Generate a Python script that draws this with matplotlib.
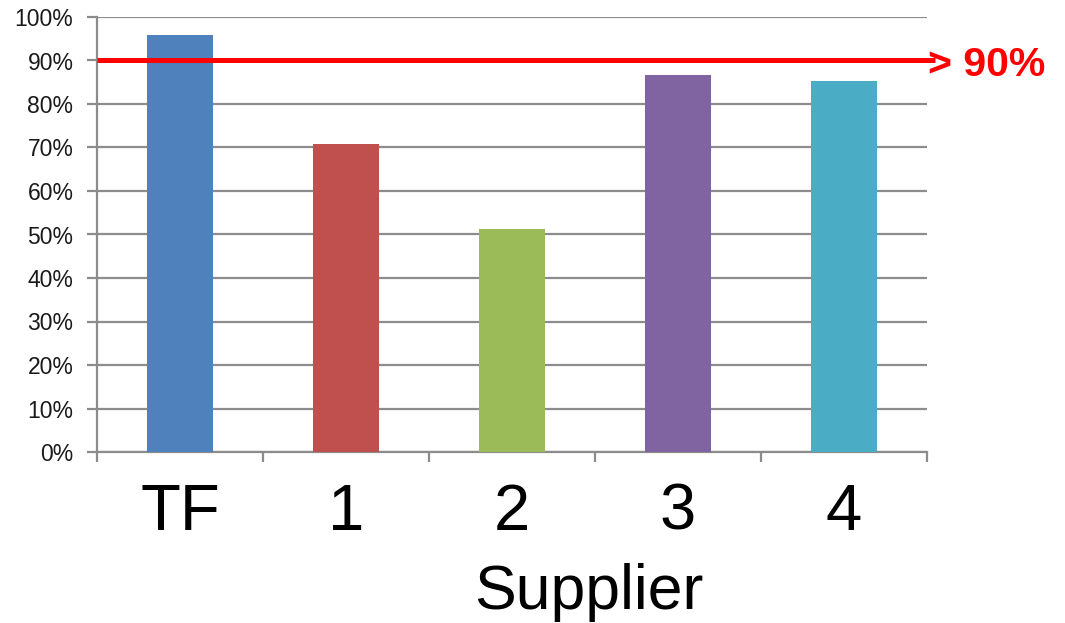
import matplotlib
matplotlib.use("Agg")
import matplotlib.pyplot as plt
from matplotlib.ticker import FixedLocator, NullFormatter

plt.rcParams['font.family'] = ['Liberation Sans', 'DejaVu Sans']

categories = ["TF", "1", "2", "3", "4"]
values = [95.9, 70.8, 51.3, 86.7, 85.3]
colors = ["#4F81BD", "#C0504D", "#9BBB59", "#8064A2", "#4BACC6"]
target = 90
y_ticks = list(range(0, 101, 10))
y_labels = [f"{v}%" for v in y_ticks]

fig = plt.figure(figsize=(10.65, 6.23), dpi=100)
ax = fig.add_axes([97 / 1065, 1 - 452 / 623, 830 / 1065, 435 / 623])

x = list(range(len(categories)))
ax.bar(x, values, width=0.4, color=colors, zorder=3)

ax.set_xlim(-0.5, len(categories) - 0.5)
ax.set_ylim(0, 100)

grid_c = "#8c8c8c"
ax.set_yticks(y_ticks)
ax.set_yticklabels(y_labels, fontsize=16.5, color="#1a1a1a")
ax.yaxis.grid(True, color=grid_c, linewidth=1.6, zorder=0)
ax.tick_params(axis="y", length=7, width=1.6, color=grid_c, pad=10)

# Category labels at centers, tick marks at category boundaries
ax.set_xticks(x)
ax.set_xticklabels(categories, fontsize=47)
ax.tick_params(axis="x", which="major", length=0, pad=22)
ax.xaxis.set_minor_locator(FixedLocator([i - 0.5 for i in range(len(categories) + 1)]))
ax.xaxis.set_minor_formatter(NullFormatter())
ax.tick_params(axis="x", which="minor", length=7, width=1.6, color=grid_c)

for side in ["top", "right"]:
    ax.spines[side].set_visible(False)
for side in ["left", "bottom"]:
    ax.spines[side].set_color(grid_c)
    ax.spines[side].set_linewidth(1.6)

ax.set_xlabel("Supplier", fontsize=45, labelpad=15)
ax.xaxis.set_label_coords(0.593, -0.255)

# Target line with label
ax.plot([-0.5, 4.55], [target, target], color="#FF0000", linewidth=3.6,
        clip_on=False, zorder=4, solid_capstyle="butt")
ax.annotate(f"> {target}%", xy=(4.505, target), xytext=(0, -11),
            textcoords="offset points", color="#FF0000", fontsize=29.5,
            fontweight="bold", ha="left", va="baseline", annotation_clip=False)

fig.savefig("out.png", dpi=100)
